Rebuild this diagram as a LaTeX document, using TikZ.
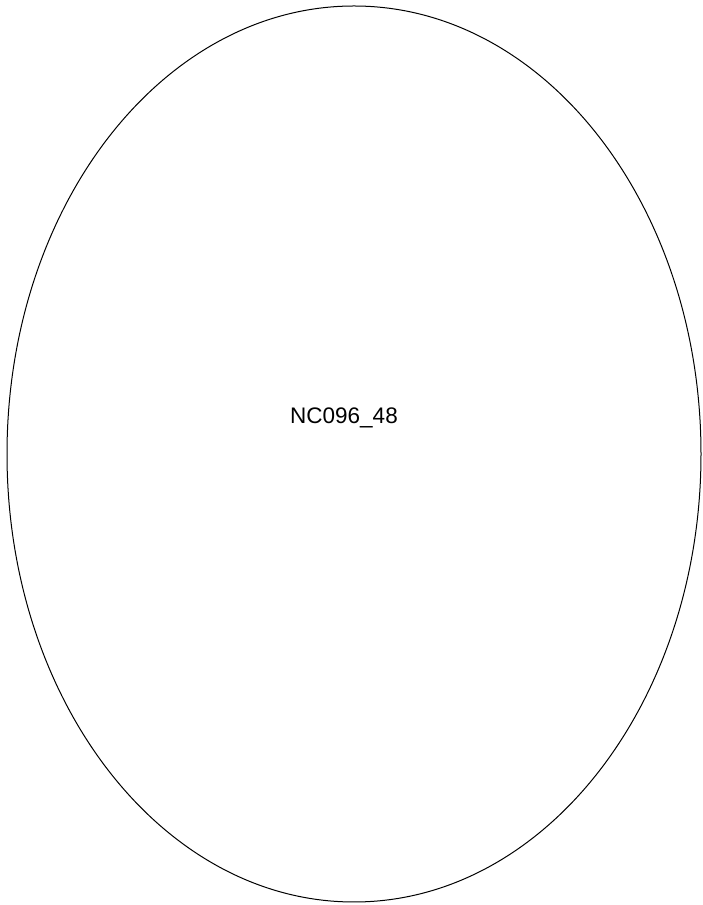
\documentclass[tikz,border=0pt]{standalone}
\usepackage{fontspec}
\setmainfont{Liberation Sans}
\usetikzlibrary{shapes.geometric}
\tikzset{
  blob/.style={draw=black, line width=1pt, ellipse, inner sep=0pt},
  lbltext/.style={font=\fontsize{22.5}{27}\selectfont, inner sep=0pt, anchor=base}
}
\begin{document}
\begin{tikzpicture}[x=1pt,y=1pt]
\useasboundingbox (0,0) rectangle (702,905);
\fill[white] (0,0) rectangle (702,905);
\node[blob, minimum width=694pt, minimum height=896pt] (e) at (354,451) {};
\node[lbltext] (lbl) at (344,481) {NC096\_48};
\end{tikzpicture}
\end{document}
